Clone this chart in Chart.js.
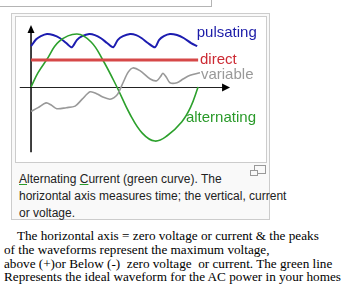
<!DOCTYPE html>
<html lang="en">
<head>
  <meta charset="UTF-8" />
  <title>AC waveforms</title>
  <script src="https://cdn.jsdelivr.net/npm/chart.js"></script>
  <style>
    body {
      margin: 0;
      width: 347px;
      height: 295px;
      overflow: hidden;
      position: relative;
      background: #fff;
      font-family: 'Liberation Sans', Arial, sans-serif;
    }
    .topbox {
      position: absolute;
      left: -2px; top: -2px;
      width: 212px; height: 7px;
      border: 1px solid #b4b4b4;
    }
    .thumb {
      position: absolute;
      left: 11px; top: 13px;
      width: 257px; height: 205px;
      border: 1px solid #ccc;
      background: #f9f9f9;
    }
    .inner {
      position: absolute;
      left: 15px; top: 16px;
      width: 250px; height: 145px;
      border: 1px solid #ccc;
      background: #fff;
    }
    #wave {
      position: absolute;
      left: 16px; top: 17px;
    }
    .caption {
      position: absolute;
      left: 19px; top: 171px;
      font-size: 12px;
      line-height: 17px;
      white-space: nowrap;
      color: #222;
    }
    .caption u {
      text-decoration-color: #2a9a2a;
    }
    .magnify {
      position: absolute;
      left: 250px; top: 165px;
      width: 16px; height: 11px;
    }
    .magnify .big {
      position: absolute; left: 4px; top: 0;
      width: 10px; height: 7px;
      border: 1px solid #999;
    }
    .magnify .small {
      position: absolute; left: 0; top: 5px;
      width: 6px; height: 4px;
      border: 1px solid #999;
      background: #f9f9f9;
    }
    .note {
      position: absolute;
      left: 4px; top: 229px;
      font-family: 'Liberation Serif', 'Times New Roman', serif;
      font-size: 13.2px;
      line-height: 13.8px;
      white-space: pre;
      color: #000;
    }
  </style>
</head>
<body>
  <div class="topbox"></div>
  <div class="thumb"></div>
  <div class="inner"></div>
  <canvas id="wave" width="250" height="145"></canvas>
  <div class="caption"><u>A</u>lternating <u>C</u>urrent (green curve). The<br>horizontal axis measures time; the vertical, current<br>or voltage.</div>
  <div class="magnify"><div class="big"></div><div class="small"></div></div>
  <div class="note">    The horizontal axis = zero voltage or current &amp; the peaks
of the waveforms represent the maximum voltage,
above (+)or Below (-)  zero voltage  or current. The green line
Represents the ideal waveform for the AC power in your homes</div>

  <script>
    // phase in degrees, value relative to AC peak
    const pulsatingDeg = [0, 11, 21, 34, 47, 62, 75, 87, 98, 109, 124, 136, 149, 162, 175, 185, 196, 211, 224, 236, 249, 264, 273, 283, 296, 311, 326, 341, 354];
    const pulsatingVal = [0.77, 0.90, 0.96, 1.0, 0.98, 0.92, 0.83, 0.75, 0.89, 0.96, 1.0, 0.98, 0.92, 0.83, 0.75, 0.89, 0.96, 1.0, 0.98, 0.92, 0.83, 0.75, 0.89, 0.96, 1.0, 0.98, 0.92, 0.83, 0.77];

    const directDeg = [0, 356];
    const directVal = [0.51, 0.51];

    const variableDeg = [0, 15, 32, 43, 55, 75, 94, 109, 126, 141, 153, 168, 177, 185, 196, 207, 217, 232, 254, 268, 277, 281, 288, 296, 311, 324, 339, 360];
    const variableVal = [-0.46, -0.39, -0.30, -0.34, -0.41, -0.39, -0.36, -0.23, -0.09, -0.13, -0.19, -0.23, -0.20, -0.13, 0.08, 0.28, 0.36, 0.31, 0.15, 0.12, 0.21, 0.26, 0.19, 0.08, 0.08, 0.15, 0.22, 0.27];

    const alternatingDeg = [0, 15, 33, 60, 98, 128, 153, 183, 210, 237, 264, 290, 321, 340, 356];
    const alternatingVal = [0, 0.27, 0.51, 0.86, 1.0, 0.85, 0.51, 0, -0.5, -0.87, -1.02, -0.92, -0.66, -0.38, 0];

    const timeAxis = [-24, 424];
    const valueAxis = [-1.23, 1.17];

    function pts(xs, ys) {
      return xs.map((x, i) => ({ x: x, y: ys[i] }));
    }

    // axes with arrow heads, drawn under the curves
    const arrowAxes = {
      id: 'arrowAxes',
      beforeDatasetsDraw(chart) {
        const { ctx, scales: { x, y } } = chart;
        const x0 = x.getPixelForValue(0), y0 = y.getPixelForValue(0);
        const xl = x.getPixelForValue(timeAxis[0]), xr = x.getPixelForValue(timeAxis[1]);
        const yb = y.getPixelForValue(valueAxis[0]), yt = y.getPixelForValue(valueAxis[1]);
        ctx.save();
        ctx.strokeStyle = '#222';
        ctx.lineWidth = 1;
        ctx.beginPath();
        ctx.moveTo(xl, y0 + 0.5);
        ctx.lineTo(xr - 6, y0 + 0.5);
        ctx.stroke();
        ctx.strokeStyle = '#000';
        ctx.lineWidth = 1.5;
        ctx.beginPath();
        ctx.moveTo(x0, yb);
        ctx.lineTo(x0, yt + 6);
        ctx.stroke();
        ctx.fillStyle = '#000';
        ctx.beginPath();
        ctx.moveTo(xr, y0 + 0.5);
        ctx.lineTo(xr - 8, y0 - 3.5);
        ctx.lineTo(xr - 8, y0 + 4.5);
        ctx.closePath();
        ctx.fill();
        ctx.beginPath();
        ctx.moveTo(x0, yt);
        ctx.lineTo(x0 - 3.5, yt + 8);
        ctx.lineTo(x0 + 3.5, yt + 8);
        ctx.closePath();
        ctx.fill();
        ctx.restore();
      }
    };

    // curve names next to the lines
    const waveNames = {
      id: 'waveNames',
      afterDatasetsDraw(chart) {
        const { ctx, scales: { x, y } } = chart;
        const spots = {
          pulsating: [353, 1.02],
          direct: [360, 0.51],
          variable: [362, 0.225],
          alternating: [330, -0.585]
        };
        ctx.save();
        ctx.font = '15px "Liberation Sans", Arial, sans-serif';
        ctx.textBaseline = 'middle';
        chart.data.datasets.forEach(ds => {
          const s = spots[ds.label];
          ctx.fillStyle = ds.textColor;
          ctx.fillText(ds.label, x.getPixelForValue(s[0]), y.getPixelForValue(s[1]));
        });
        ctx.restore();
      }
    };

    new Chart(document.getElementById('wave'), {
      type: 'line',
      data: {
        datasets: [
          { label: 'variable', data: pts(variableDeg, variableVal), borderColor: '#999', textColor: '#999', borderWidth: 1.6, tension: 0.3 },
          { label: 'direct', data: pts(directDeg, directVal), borderColor: '#d64848', textColor: '#cc2a33', borderWidth: 3, tension: 0 },
          { label: 'alternating', data: pts(alternatingDeg, alternatingVal), borderColor: '#2ca02c', textColor: '#2a9a2a', borderWidth: 1.6, tension: 0.4 },
          { label: 'pulsating', data: pts(pulsatingDeg, pulsatingVal), borderColor: '#1c1cb0', textColor: '#1c1ca8', borderWidth: 2, tension: 0.25 }
        ]
      },
      options: {
        responsive: false,
        animation: false,
        devicePixelRatio: 1,
        layout: { padding: 0 },
        elements: { point: { radius: 0 } },
        datasets: { line: { clip: false } },
        plugins: { legend: { display: false }, tooltip: { enabled: false } },
        scales: {
          x: { type: 'linear', min: -32, max: 500.6, display: false },
          y: { type: 'linear', min: -1.415, max: 1.321, display: false }
        }
      },
      plugins: [arrowAxes, waveNames]
    });
  </script>
</body>
</html>
